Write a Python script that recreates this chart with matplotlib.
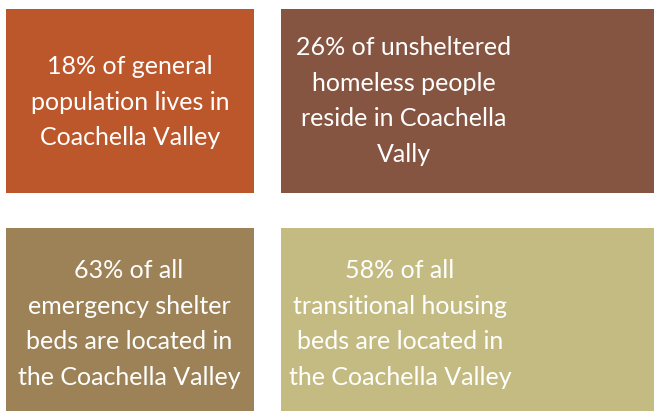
import matplotlib.pyplot as plt
from matplotlib.patches import Rectangle

# box texts and fills, in reading order
labels = [
    "18% of general\npopulation lives in\nCoachella Valley",
    "26% of unsheltered\nhomeless people\nreside in Coachella\nVally",
    "63% of all\nemergency shelter\nbeds are located in\nthe Coachella Valley",
    "58% of all\ntransitional housing\nbeds are located in\nthe Coachella Valley",
]
colors = ["#BC562B", "#855541", "#9C8256", "#C4BB82"]

# box geometry in pixels (left, top, width, height) and text centre
boxes = [(6, 9, 248, 184), (281, 9, 380, 184), (6, 228, 248, 190), (281, 228, 380, 190)]
text_xy = [(130, 102), (404, 101), (129, 324), (400, 324)]

fig = plt.figure(figsize=(6.54, 4.11), dpi=100)
ax = fig.add_axes([0, 0, 1, 1])
ax.set_xlim(0, 654)
ax.set_ylim(411, 0)
ax.axis("off")

for (x, y, w, h), c, lab, (tx, ty) in zip(boxes, colors, labels, text_xy):
    ax.add_patch(Rectangle((x, y), w, h, facecolor=c, edgecolor="none"))
    ax.text(tx, ty, lab, ha="center", va="center", color="white",
            fontsize=18, family="Lato", linespacing=1.65)

fig.savefig("out.png", dpi=100)
